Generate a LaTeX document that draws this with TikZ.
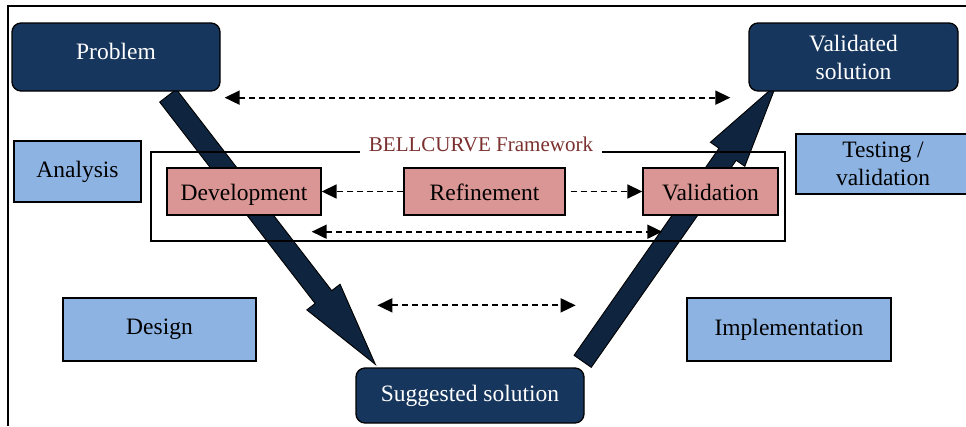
\documentclass[tikz,border=0pt]{standalone}
\usepackage{fontspec}
\setmainfont{Liberation Serif}
\usepackage{xcolor}
\usetikzlibrary{arrows.meta,calc,backgrounds}

\definecolor{cnavy}{HTML}{17365D}
\definecolor{cshaft}{HTML}{0F243E}
\definecolor{cphase}{HTML}{8DB3E2}
\definecolor{cbell}{HTML}{D99694}
\definecolor{ctitle}{HTML}{7A302E}

% thick V arrow from #1 (tail) to #2 (tip)
\newcommand{\fatarrow}[2]{%
  \coordinate (fabase) at ($(#2)!85pt!(#1)$);
  \filldraw[fatshaft] ($(#1)!10.5pt!90:(#2)$) -- ($(fabase)!10.5pt!-90:(#1)$)
    -- ($(fabase)!21pt!-90:(#1)$) -- (#2) -- ($(fabase)!21pt!90:(#1)$)
    -- ($(fabase)!10.5pt!90:(#1)$) -- ($(#1)!10.5pt!-90:(#2)$) -- cycle;
}

\begin{document}
\begin{tikzpicture}[x=1pt, y=-1pt,
  txt/.style={font=\fontsize{23.5}{28}\selectfont, inner sep=0pt, align=center},
  endbox/.style={txt, draw=black, line width=1.3pt, fill=cnavy, text=white, rounded corners=9pt},
  phase/.style={txt, draw=black, line width=1.6pt, fill=cphase},
  bellbox/.style={txt, draw=black, line width=1.4pt, fill=cbell, minimum height=47pt, text height=17pt, text depth=0pt},
  fatshaft/.style={fill=cshaft, draw=black, line width=0.9pt, line join=miter},
  dlink/.style={line width=1.8pt, dash pattern=on 6pt off 4pt, -{Triangle[length=15pt,width=14pt]}},
  dboth/.style={dlink, {Triangle[length=15pt,width=14pt]}-{Triangle[length=15pt,width=14pt]}}]
\useasboundingbox (0,0) rectangle (966,426);
\draw[line width=1.2pt] (8,426) -- (8,6) -- (966,6);
%----------------------------------------
\node[endbox, minimum width=208pt, minimum height=68pt, text depth=12pt] (prob) at (116,57) {Problem};
\node[endbox, minimum width=209pt, minimum height=68pt] (valsol) at (853.5,57) {Validated\\solution};
\node[endbox, minimum width=228pt, minimum height=55pt] (sugsol) at (470,395.5) {Suggested solution};
%----------------------------------------
\node[phase, minimum width=127pt, minimum height=61pt] (analysis) at (77.5,171.5) {Analysis};
\node[phase, minimum width=193pt, minimum height=63pt] (design) at (159.5,329.5) {Design};
\node[phase, minimum width=204pt, minimum height=63pt] (impl) at (789,329.5) {Implementation};
\node[phase, minimum width=174pt, minimum height=60pt] (testing) at (883,164) {Testing /\\validation};
%----------------------------------------
\draw[line width=1.2pt] (151,152) rectangle (785,241);
\node[txt, font=\fontsize{21}{24}\selectfont, text=ctitle, fill=white, inner xsep=9pt, inner ysep=2pt] (fwtitle) at (481,144) {BELLCURVE Framework};
\node[bellbox, minimum width=154pt] (dev) at (244,191.5) {Development};
\node[bellbox, minimum width=161pt] (refine) at (484.5,191.5) {Refinement};
\node[bellbox, minimum width=135pt] (valid) at (710.5,191.5) {Validation};
%----------------------------------------
\draw[dlink] (refine.west) -- (dev.east);
\draw[dlink] ([xshift=5pt]refine.east) -- (valid.west);
\draw[dboth] ($(dev.south east)+(-10,16)$) -- ($(valid.south west)+(20,16)$);
\draw[dboth] ($(prob.south east)+(4,6)$) -- ($(valsol.south west)+(-18,6)$);
\draw[dboth] ($(sugsol.north west)+(22,-62)$) -- ($(sugsol.north east)+(-9,-62)$);
%----------------------------------------
\coordinate (vtopl) at ($(prob.south)+(52,4)$);
\coordinate (vbotl) at ($(sugsol.north west)+(20,-3)$);
\coordinate (vbotr) at ($(sugsol.north east)+(-2,-6)$);
\coordinate (vtopr) at ($(valsol.south west)+(28,-7)$);
\begin{pgfonlayer}{background}
\fatarrow{vtopl}{vbotl}
\fatarrow{vbotr}{vtopr}
\end{pgfonlayer}
\end{tikzpicture}
\end{document}
